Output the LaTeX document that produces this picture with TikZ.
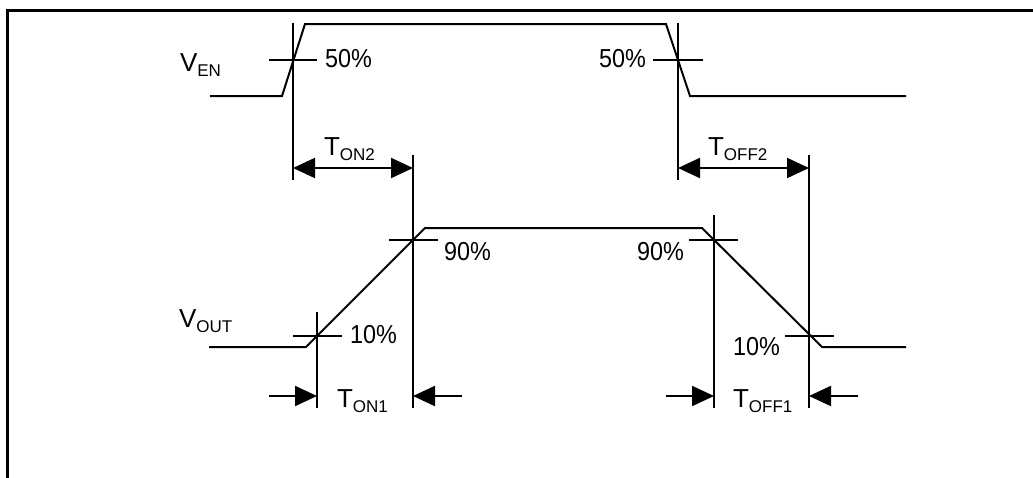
\documentclass[tikz,border=0pt]{standalone}
\usepackage{fontspec}
\setmainfont{Liberation Sans}
\usetikzlibrary{arrows.meta}
\newcommand\bigtxt{\fontsize{26}{28}\selectfont}
\newcommand\subtxt{\fontsize{17}{19}\selectfont}
\newcommand\lbl[2]{{\bigtxt #1}\raisebox{-5.5pt}{\subtxt #2}}
\newcommand\pct[1]{\scalebox{0.9}[1]{\bigtxt #1\%}}
\begin{document}
\begin{tikzpicture}[x=1pt,y=-1pt,
  sig/.style={line width=2pt,line join=miter},
  guide/.style={line width=2pt},
  tick/.style={line width=2pt},
  dim/.style={line width=2pt,-{Triangle[length=22pt,width=20pt]}},
  dimboth/.style={line width=2pt,{Triangle[length=22pt,width=20pt]}-{Triangle[length=22pt,width=20pt]}},
  txt/.style={anchor=base west,inner sep=0pt,outer sep=0pt}]
\useasboundingbox (0,0) rectangle (1033,477);
% frame
\coordinate (fA) at (7,490);
\coordinate (fB) at (7,10);
\coordinate (fC) at (1045,10);
\draw[line width=3pt] (fA) -- (fB) -- (fC);
% key coordinates
\coordinate (enA) at (210,96);
\coordinate (enB) at (282,96);
\coordinate (enC) at (305,24);
\coordinate (enD) at (666,24);
\coordinate (enE) at (690,96);
\coordinate (enF) at (906,96);
\coordinate (outA) at (209,347);
\coordinate (outB) at (306,347);
\coordinate (outC) at (425,228);
\coordinate (outD) at (702,228);
\coordinate (outE) at (822,347);
\coordinate (outF) at (906,347);
% signals
\draw[sig] (enA) -- (enB) -- (enC) -- (enD) -- (enE) -- (enF);
\draw[sig] (outA) -- (outB) -- (outC) -- (outD) -- (outE) -- (outF);
% vertical guides
\coordinate (g1t) at (293,23);  \coordinate (g1b) at (293,180);
\coordinate (g2t) at (678,23);  \coordinate (g2b) at (678,180);
\coordinate (g3t) at (413,155); \coordinate (g3b) at (413,408);
\coordinate (g4t) at (809,155); \coordinate (g4b) at (809,408);
\coordinate (g5t) at (317,312); \coordinate (g5b) at (317,408);
\coordinate (g6t) at (714,215); \coordinate (g6b) at (714,408);
\draw[guide] (g1t) -- (g1b);
\draw[guide] (g2t) -- (g2b);
\draw[guide] (g3t) -- (g3b);
\draw[guide] (g4t) -- (g4b);
\draw[guide] (g5t) -- (g5b);
\draw[guide] (g6t) -- (g6b);
% ticks
\coordinate (t1a) at (269,60); \coordinate (t1b) at (317,60);
\coordinate (t2a) at (653,60); \coordinate (t2b) at (703,60);
\coordinate (t3a) at (293,336); \coordinate (t3b) at (342,336);
\coordinate (t4a) at (389,240); \coordinate (t4b) at (438,240);
\coordinate (t5a) at (689,240); \coordinate (t5b) at (738,240);
\coordinate (t6a) at (785,336); \coordinate (t6b) at (834,336);
\draw[tick] (t1a) -- (t1b);
\draw[tick] (t2a) -- (t2b);
\draw[tick] (t3a) -- (t3b);
\draw[tick] (t4a) -- (t4b);
\draw[tick] (t5a) -- (t5b);
\draw[tick] (t6a) -- (t6b);
% dimension arrows
\coordinate (d1a) at (293,168); \coordinate (d1b) at (413,168);
\coordinate (d2a) at (678,168); \coordinate (d2b) at (809,168);
\draw[dimboth] (d1a) -- (d1b);
\draw[dimboth] (d2a) -- (d2b);
\coordinate (a1s) at (269,396); \coordinate (a1e) at (317,396);
\coordinate (a2s) at (462,396); \coordinate (a2e) at (413,396);
\coordinate (a3s) at (666,396); \coordinate (a3e) at (714,396);
\coordinate (a4s) at (858,396); \coordinate (a4e) at (809,396);
\draw[dim] (a1s) -- (a1e);
\draw[dim] (a2s) -- (a2e);
\draw[dim] (a3s) -- (a3e);
\draw[dim] (a4s) -- (a4e);
% labels
\node[txt] (ven) at (180,71) {\lbl{V}{EN}};
\node[txt] (vout) at (179,327) {\lbl{V}{OUT}};
\node[txt] (p50a) at (325,67) {\pct{50}};
\node[txt,anchor=base east] (p50b) at (646,67) {\pct{50}};
\node[txt] (p10a) at (350,343) {\pct{10}};
\node[txt] (p90a) at (444,260) {\pct{90}};
\node[txt] (p90b) at (637,260) {\pct{90}};
\node[txt] (p10b) at (733,355) {\pct{10}};
\node[txt] (ton2) at (324,155) {\lbl{T}{ON2}};
\node[txt] (toff2) at (708,155) {\lbl{T}{OFF2}};
\node[txt] (ton1) at (337,407) {\lbl{T}{ON1}};
\node[txt] (toff1) at (733,407) {\lbl{T}{OFF1}};
\end{tikzpicture}
\end{document}
